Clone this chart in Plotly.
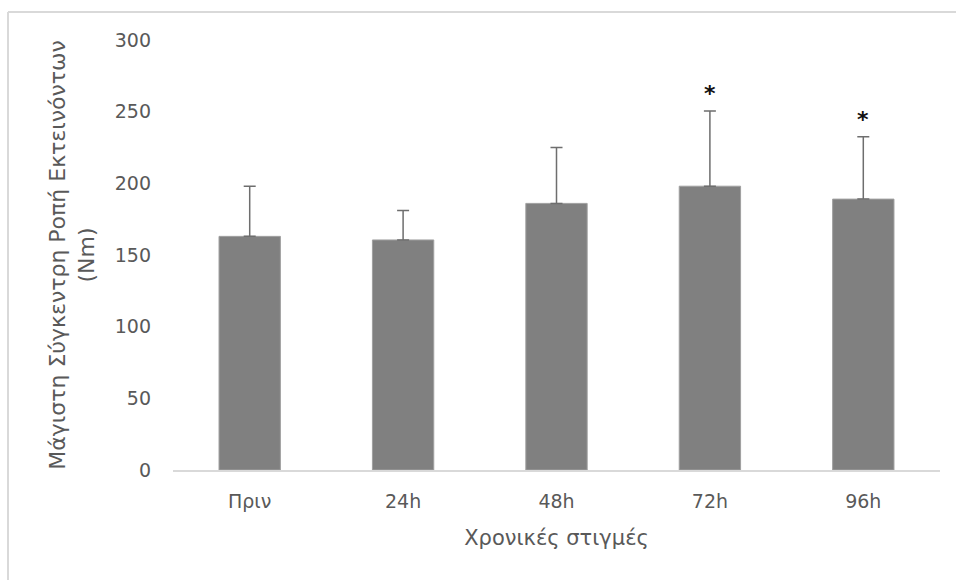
import plotly.graph_objects as go

# Peak extensor torque over time (mean ± SD)
categories = ["Πριν", "24h", "48h", "72h", "96h"]
means = [163, 160.5, 186, 198, 189]
sds = [35, 20.5, 39, 52.5, 43.5]
significant = [False, False, False, True, True]

W, H = 956, 580
ML, MR, MT, MB = 173, 16, 40, 110
pw = W - ML - MR
ph = H - MT - MB

fig = go.Figure()
fig.add_trace(go.Bar(
    x=categories,
    y=means,
    width=0.4,
    marker=dict(color="#808080", line=dict(color="#a0a0a0", width=1)),
    error_y=dict(
        type="data",
        symmetric=False,
        array=sds,
        arrayminus=[0] * len(sds),
        color="#6e6e6e",
        thickness=1.5,
        width=6,
    ),
    hoverinfo="skip",
))

# significance markers above the error bars
for cat, m, s, sig in zip(categories, means, sds, significant):
    if sig:
        fig.add_annotation(
            x=cat, y=m + s, text="<b>*</b>", showarrow=False,
            yanchor="bottom", yshift=3,
            font=dict(family="DejaVu Sans", size=22, color="#111111"),
        )

# light frame on the left and top edges
def px_x(p):
    return (p - ML) / pw

def px_y(p):
    return (H - MB - p) / ph

frame = dict(color="#d9d9d9", width=2)
fig.add_shape(type="line", xref="paper", yref="paper",
              x0=px_x(8), x1=px_x(W + 5), y0=px_y(12), y1=px_y(12), line=frame)
fig.add_shape(type="line", xref="paper", yref="paper",
              x0=px_x(8), x1=px_x(8), y0=px_y(12), y1=px_y(H + 5), line=frame)

font = "DejaVu Sans"
fig.update_layout(
    width=W, height=H,
    margin=dict(l=ML, r=MR, t=MT, b=MB),
    paper_bgcolor="white", plot_bgcolor="white",
    showlegend=False,
    bargap=0.6,
    font=dict(family=font, color="#595959"),
    xaxis=dict(
        showgrid=False, zeroline=False,
        showline=True, linecolor="#d9d9d9", linewidth=1.5,
        ticks="", tickfont=dict(size=19, color="#595959"),
        ticklabelstandoff=13,
        title=dict(text="Χρονικές στιγμές", font=dict(size=21, color="#595959"),
                   standoff=20),
    ),
    yaxis=dict(
        range=[0, 300], dtick=50,
        showgrid=False, zeroline=False, showline=False,
        ticks="", tickfont=dict(size=19, color="#595959"),
        ticklabelstandoff=21,
        title=dict(text="Μάγιστη Σύγκεντρη Ροπή Εκτεινόντων<br>(Nm)",
                   font=dict(size=22, color="#595959"), standoff=14),
    ),
)

fig.write_html("out.html")
